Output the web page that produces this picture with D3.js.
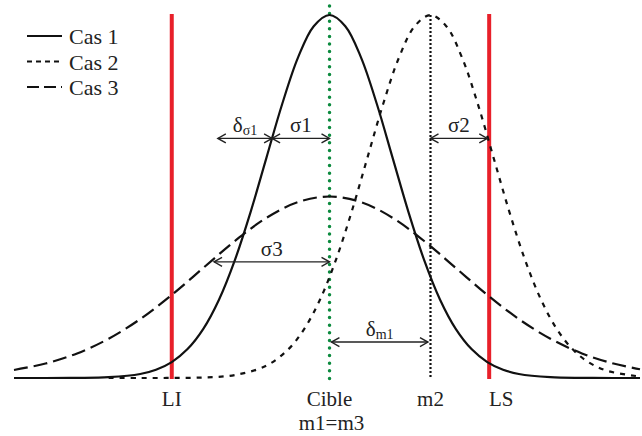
<!DOCTYPE html>
<html><head><meta charset="utf-8">
<script src="https://cdn.jsdelivr.net/npm/d3@7"></script>
<style>body{margin:0;background:#fff}svg{display:block}</style>
</head><body><svg id="c" width="642" height="436" font-family="'Liberation Serif', 'Times New Roman', Times, 'DejaVu Serif', serif"></svg>
<script>
// Curve 1 (Cas 1): centred on target
const x1 = [-5,-4.5,-4,-3.5,-3,-2.75,-2.5,-2.25,-2,-1.75,-1.5,-1.25,-1,-0.75,-0.5,-0.25,0,0.25,0.5,0.75,1,1.25,1.5,1.75,2,2.25,2.5,2.75,3,3.5,4,4.5,4.92];
const y1 = [0,0,0.0003,0.0022,0.011,0.0228,0.0439,0.0796,0.1353,0.2163,0.3247,0.4578,0.6065,0.7548,0.8825,0.9692,1,0.9692,0.8825,0.7548,0.6065,0.4578,0.3247,0.2163,0.1353,0.0796,0.0439,0.0228,0.011,0.0022,0.0003,0,0];
// Curve 2 (Cas 2): shifted to m2
const x2 = [-3.5,-3,-2.5,-2,-1.5,-1,-0.65,-0.4,-0.15,0.1,0.35,0.6,0.85,1.1,1.35,1.6,1.85,2.1,2.35,2.6,2.85,3.1,3.35,3.6,3.85,4.1,4.4,4.92];
const y2 = [0,0,0.0002,0.0015,0.0082,0.034,0.0796,0.1353,0.2163,0.3247,0.4578,0.6065,0.7548,0.8825,0.9692,1,0.9692,0.8825,0.7548,0.6065,0.4578,0.3247,0.2163,0.1353,0.0796,0.0439,0.0198,0.004];
// Curve 3 (Cas 3): wide, centred on target
const x3 = [-5,-4.5,-4,-3.5,-3,-2.5,-2,-1.5,-1,-0.5,0,0.5,1,1.5,2,2.5,3,3.5,4,4.5,4.92];
const y3 = [0.022,0.0398,0.0677,0.1082,0.1623,0.2289,0.3033,0.3774,0.4412,0.4846,0.5,0.4846,0.4412,0.3774,0.3033,0.2289,0.1623,0.1082,0.0677,0.0398,0.024];

const seriesNames = ["Cas 1","Cas 2","Cas 3"];
const limitLabels = ["LI","LS"];
const limitValues = [-2.5, 2.53];
const targetValue = 0;
const m2Value = 1.6;
// annotations
const annotLabels = ["δ","σ1","σ2","σ3","δ"];
const annotSubs = ["σ1","","","","m1"];
const annotFrom = [-1.77, -0.91, 1.6, -1.83, 0.03];
const annotTo = [-0.91, 0, 2.5, 0, 1.56];
const annotLevel = [0.66, 0.66, 0.66, 0.32, 0.099];

const svg = d3.select("#c");
const x = d3.scaleLinear().domain([-5, 4.92]).range([14, 640]);
const y = d3.scaleLinear().domain([0, 1]).range([378, 15]);

const defs = svg.append("defs");
defs.append("marker").attr("id","arr").attr("viewBox","-10 -6 12 12").attr("refX",0).attr("refY",0)
  .attr("markerWidth",12).attr("markerHeight",12).attr("markerUnits","userSpaceOnUse").attr("orient","auto-start-reverse")
  .append("path").attr("d","M-8,-4.5 L0,0 L-8,4.5").attr("fill","none").attr("stroke","#222").attr("stroke-width",1.4);

// red limit lines
svg.selectAll(".lim").data(limitValues).enter().append("line")
  .attr("x1",d=>x(d)).attr("x2",d=>x(d)).attr("y1",14).attr("y2",379)
  .attr("stroke","#e8202a").attr("stroke-width",4);

// target green dotted
svg.append("line").attr("x1",x(targetValue)).attr("x2",x(targetValue)).attr("y1",6).attr("y2",380)
  .attr("stroke","#0c8a3e").attr("stroke-width",3.5).attr("stroke-linecap","round").attr("stroke-dasharray","0,7.6");
// m2 dotted
svg.append("line").attr("x1",x(m2Value)).attr("x2",x(m2Value)).attr("y1",y(1)).attr("y2",378)
  .attr("stroke","#111").attr("stroke-width",2.2).attr("stroke-dasharray","2,2");

const line = d3.line().x(d=>x(d[0])).y(d=>y(d[1])).curve(d3.curveCatmullRom.alpha(0.5));
const curves = [[x1,y1,null],[x2,y2,"5,6"],[x3,y3,"14,6"]];
curves.forEach(([xs,ys,dash])=>{
  svg.append("path").attr("d",line(xs.map((v,i)=>[v,ys[i]])))
    .attr("fill","none").attr("stroke","#111").attr("stroke-width",2.2)
    .attr("stroke-dasharray",dash);
});

// annotations (double-headed arrows)
annotLabels.forEach((lab,i)=>{
  const yy = y(annotLevel[i]);
  svg.append("line").attr("x1",x(annotFrom[i])).attr("x2",x(annotTo[i])).attr("y1",yy).attr("y2",yy)
    .attr("stroke","#222").attr("stroke-width",1.4)
    .attr("marker-start","url(#arr)").attr("marker-end","url(#arr)");
  const cx = (x(annotFrom[i])+x(annotTo[i]))/2;
  const t = svg.append("text").attr("x",cx).attr("y",yy-6).attr("text-anchor","middle").attr("font-size",21).attr("fill","#222").text(lab);
  if (annotSubs[i]) t.append("tspan").attr("font-size",14).attr("dy",3).text(annotSubs[i]);
});

// bottom labels
const bottom = [[limitLabels[0], limitValues[0]],["Cible",targetValue],["m2",m2Value],[limitLabels[1],limitValues[1]+0.19]];
bottom.forEach(([t,v])=>{
  svg.append("text").attr("x",x(v)).attr("y",406).attr("text-anchor","middle").attr("font-size",21).attr("fill","#222").text(t);
});
svg.append("text").attr("x",x(targetValue)+2).attr("y",430).attr("text-anchor","middle").attr("font-size",21).attr("fill","#222").text("m1=m3");

// legend
const dashes = [null,"5,4","12,5"];
seriesNames.forEach((n,i)=>{
  const ly = 36 + i*25.5;
  svg.append("line").attr("x1",27).attr("x2",62).attr("y1",ly).attr("y2",ly)
    .attr("stroke","#111").attr("stroke-width",2.2).attr("stroke-dasharray",dashes[i]);
  svg.append("text").attr("x",69).attr("y",ly+8).attr("font-size",22).attr("fill","#222").text(n);
});
</script></body></html>
